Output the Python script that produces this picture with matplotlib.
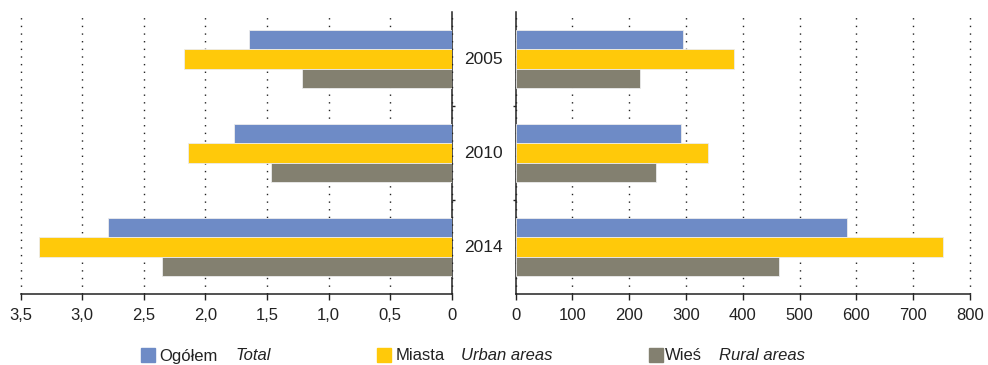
import matplotlib.pyplot as plt
import matplotlib.patches as mpatches
import numpy as np

plt.rcParams['font.family'] = ['Liberation Sans', 'DejaVu Sans']

years = ['2005', '2010', '2014']

# left panel (per 100 inhabitants)
total_l = [1.65, 1.77, 2.79]
urban_l = [2.17, 2.14, 3.35]
rural_l = [1.22, 1.47, 2.35]

# right panel
total_r = [295, 291, 584]
urban_r = [385, 339, 752]
rural_r = [219, 248, 464]

series_names = [('Ogółem', 'Total'), ('Miasta', 'Urban areas'), ('Wieś', 'Rural areas')]
colors = ['#6e8bc6', '#ffc90a', '#838070']

left_ticks = [3.5, 3.0, 2.5, 2.0, 1.5, 1.0, 0.5, 0]
right_ticks = [0, 100, 200, 300, 400, 500, 600, 700, 800]

W, H = 988, 365
fig = plt.figure(figsize=(W / 100, H / 100), dpi=100)
axl = fig.add_axes([20.5 / W, 71 / H, 431.5 / W, 282 / H])
axr = fig.add_axes([515.5 / W, 71 / H, 454.5 / W, 282 / H])

y = np.arange(len(years))
h = 0.205


def draw(ax, data):
    for k, vals in enumerate(data):
        ax.barh(y + (k - 1) * h, vals, height=h, color=colors[k],
                edgecolor='#ececec', linewidth=0.6, zorder=3)
    ax.set_ylim(2.5, -0.5)
    ax.set_yticks([0.5, 1.5])
    ax.set_yticklabels([])
    ax.tick_params(axis='y', length=2.5, width=1, color='#222222')
    ax.tick_params(axis='x', length=4, width=1, pad=6, labelsize=12,
                   color='#222222', labelcolor='#222222')
    ax.grid(axis='x', color='#222222', linestyle=(0, (1, 4.5)), linewidth=1, zorder=1)
    for s in ax.spines.values():
        s.set_color('#222222')
        s.set_linewidth(1.1)
    ax.spines['top'].set_visible(False)


draw(axl, [total_l, urban_l, rural_l])
axl.set_xlim(3.5, 0)
axl.set_xticks(left_ticks)
axl.set_xticklabels([('%.1f' % t).replace('.', ',') if t else '0' for t in left_ticks])
axl.spines['left'].set_visible(False)
axl.yaxis.tick_right()

draw(axr, [total_r, urban_r, rural_r])
axr.set_xlim(0, 800)
axr.set_xticks(right_ticks)
axr.spines['right'].set_visible(False)

# let the outermost gridlines show in full
for ax in (axl, axr):
    for g in ax.get_xgridlines():
        g.set_clip_on(False)

# year labels in the gap between the panels
for i, yr in enumerate(years):
    axr.text(-0.0704, i, yr, transform=axr.get_yaxis_transform(),
             ha='center', va='center', fontsize=12.5, color='#222222')

# legend
square_x = [141, 377, 649]
text_x = [159, 396, 665]
italic_x = [235, 461, 719]
for k, (pl, en) in enumerate(series_names):
    fig.patches.append(mpatches.Rectangle((square_x[k] / W, 3 / H), 14 / W, 14 / H,
                                          transform=fig.transFigure, color=colors[k]))
    fig.text(text_x[k] / W, 9 / H, pl, fontsize=12, va='center', color='#222222')
    fig.text(italic_x[k] / W, 9 / H, en, fontsize=12, style='italic', va='center', color='#222222')

fig.savefig('out.png', dpi=100)
